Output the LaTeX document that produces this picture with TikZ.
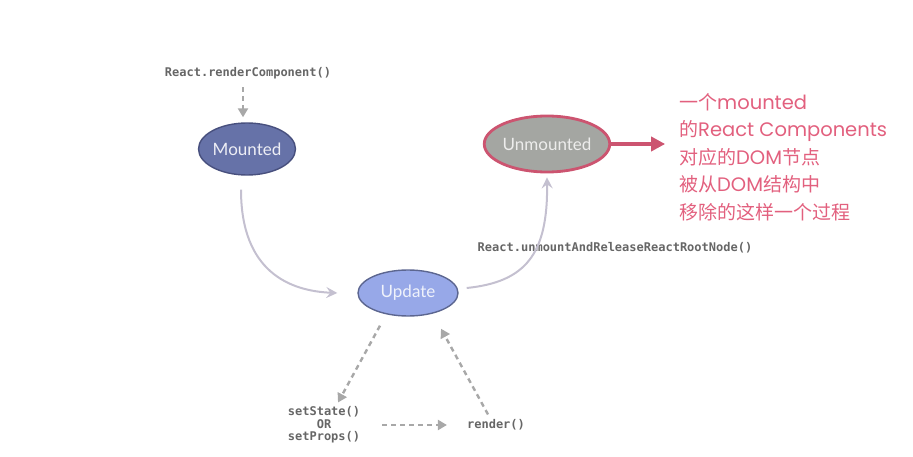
\documentclass[tikz,border=0pt]{standalone}
\usepackage{fontspec}
\usetikzlibrary{arrows.meta,shapes.geometric}
\newfontfamily\cjk{Noto Sans CJK SC}
\newfontfamily\notelatin{Poppins}
\newfontfamily\labelfont{Lato}
\newfontfamily\codefont{DejaVu Sans Mono}
\newcommand{\lat}[1]{{\notelatin\fontsize{19.5}{27.5}\selectfont #1}}
\definecolor{codegray}{HTML}{666666}
\definecolor{dashgray}{HTML}{A8A8A8}
\definecolor{flowgray}{HTML}{C4C0D0}
\definecolor{mountfill}{HTML}{6672A8}
\definecolor{mountedge}{HTML}{48507E}
\definecolor{updfill}{HTML}{97A8E8}
\definecolor{updedge}{HTML}{5C6690}
\definecolor{unmfill}{HTML}{A4A6A2}
\definecolor{unmedge}{HTML}{CC5470}
\definecolor{notered}{HTML}{E2607E}
\tikzset{
  state/.style={ellipse, draw, line width=1.4pt, inner sep=0pt,
    font=\labelfont\fontsize{17}{17}\selectfont},
  code/.style={font=\codefont\bfseries\fontsize{12}{14}\selectfont, text=codegray, inner sep=0pt, align=center},
  callarrow/.style={draw=dashgray, line width=2.4pt, dash pattern=on 5pt off 4pt,
    -{Triangle[length=9pt,width=10pt,fill=dashgray]}},
  flow/.style={draw=flowgray, line width=2pt, -{Stealth[length=11pt,width=11pt,inset=4pt]}},
  note/.style={font=\cjk\fontsize{19}{27.5}\selectfont, text=notered, align=left, inner sep=0pt}
}
\begin{document}
\begin{tikzpicture}[x=1pt,y=-1pt]
  \useasboundingbox (0,0) rectangle (913,457);

  % lifecycle states
  \node[state, fill=mountfill, draw=mountedge, text=white!88!mountfill,
        minimum width=85pt, minimum height=52pt] (mounted) at (247,149) {Mounted};
  \node[state, fill=updfill, draw=updedge, text=white!85!updfill,
        minimum width=100pt, minimum height=46pt] (update) at (408,293) {Update};
  \node[state, fill=unmfill, draw=unmedge, line width=2.8pt, text=white!80!unmfill,
        minimum width=124pt, minimum height=56pt] (unmounted) at (547,144) {Unmounted};

  % method calls
  \node[code] (render0) at (248,73) {React.renderComponent()};
  \node[code] (release) at (615,248) {React.unmountAndReleaseReactRootNode()};
  \node[code, font=\codefont\bfseries\fontsize{12}{12.5}\selectfont] (setstate) at (324,425) {setState()\\OR\\setProps()};
  \node[code] (render) at (496,425) {render()};

  % explanatory note
  \node[note, anchor=north west] (note) at (679,93)
    {一个\lat{mounted}\\的\lat{React Components}\\对应的\lat{DOM}节点\\被从\lat{DOM}结构中\\移除的这样一个过程};

  % transitions
  \draw[callarrow] (render0.south -| mounted.north) ++(-4,8) coordinate (r0) -- ([xshift=-4pt,yshift=5pt]mounted.north);
  \draw[flow] ([xshift=-6pt,yshift=-14pt]mounted.south) .. controls (241,272) and (290,291) .. ([xshift=-20pt]update.west);
  \draw[flow] ([xshift=8pt,yshift=5pt]update.east) .. controls (525,282) and (548,255) .. ([yshift=-4pt]unmounted.south);
  \draw[unmedge, line width=3.5pt, -{Triangle[length=14pt,width=14pt]}]
    (unmounted.east) -- ++(54,0) coordinate (noteend);

  % update cycle
  \draw[callarrow] ([xshift=-28pt,yshift=-9pt]update.south) -- ([xshift=14pt,yshift=4pt]setstate.north);
  \draw[callarrow] ([xshift=22pt]setstate.east) -- ([xshift=-20pt]render.west);
  \draw[callarrow] ([xshift=-8pt,yshift=5pt]render.north) -- ([xshift=33pt,yshift=-12pt]update.south);
\end{tikzpicture}
\end{document}
